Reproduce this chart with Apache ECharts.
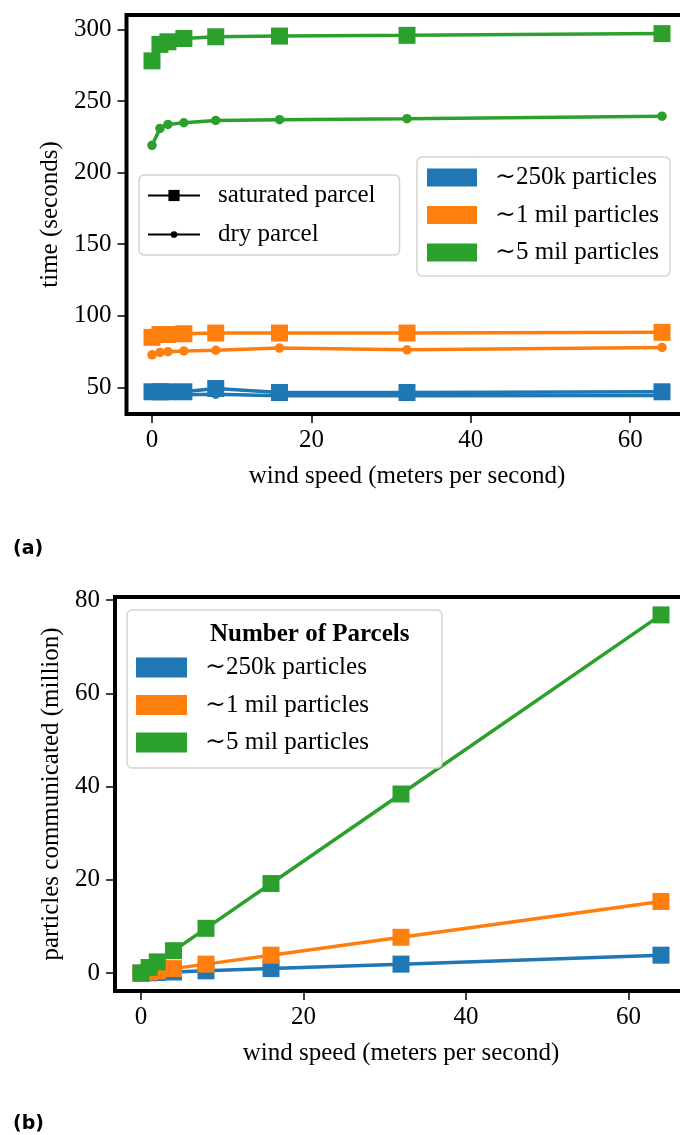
<!DOCTYPE html>
<html>
<head>
<meta charset="utf-8">
<script src="https://cdn.jsdelivr.net/npm/echarts@6/dist/echarts.min.js"></script>
<style>
  html, body { margin: 0; padding: 0; background: #fff; }
  #chart { width: 680px; height: 1135px; }
</style>
</head>
<body>
<div id="chart"></div>
<script>
// wind speed (m/s) shared by both panels
const windSpeed = [0, 1, 2, 4, 8, 16, 32, 64];

// (a) time in seconds
const time250kSat = [47, 47, 47, 47, 49.3, 46.5, 46.5, 47];
const time250kDry = [45, 45, 45, 45, 45.3, 44.3, 44.3, 44.5];
const time1milSat = [85, 87, 87, 87.5, 88, 88, 88, 88.5];
const time1milDry = [72.8, 74.5, 75, 75.5, 76, 77.5, 76.3, 78];
const time5milSat = [278, 289.5, 291.3, 293.6, 294.8, 295.3, 295.8, 297];
const time5milDry = [219, 230.8, 233.6, 234.8, 236.4, 236.9, 237.6, 239.4];

// (b) particles communicated (million)
const comm250k = [0, 0.06, 0.12, 0.24, 0.48, 0.96, 1.92, 3.84];
const comm1mil = [0, 0.24, 0.48, 0.96, 1.92, 3.84, 7.68, 15.36];
const comm5mil = [0, 1.2, 2.4, 4.8, 9.6, 19.2, 38.4, 76.8];

const sizeNames = ['∼250k particles', '∼1 mil particles', '∼5 mil particles'];
const kindNames = ['saturated parcel', 'dry parcel'];
const xTicks = [0, 20, 40, 60];
const yTicksA = [50, 100, 150, 200, 250, 300];
const yTicksB = [0, 20, 40, 60, 80];

const colors = ['#1f77b4', '#ff7f0e', '#2ca02c'];
const serif = '"Liberation Serif", "DejaVu Serif", serif';
const fs = 25;

let myChart = echarts.init(document.getElementById('chart'), null, {renderer: 'canvas'});

function pairs(ys) {
  return windSpeed.map((x, i) => [x, ys[i]]);
}

function xAxisOf(gridIndex) {
  return {
    type: 'value', gridIndex: gridIndex,
    min: -3.2, max: 67.2,
    name: 'wind speed (meters per second)',
    nameLocation: 'middle', nameGap: 50,
    nameTextStyle: {fontFamily: serif, fontSize: fs, color: '#000'},
    axisLine: {show: false, onZero: false},
    splitLine: {show: false},
    axisTick: {show: true, length: 9, inside: false, customValues: xTicks,
      lineStyle: {color: '#000', width: 1.5}},
    axisLabel: {customValues: xTicks, margin: 14,
      fontFamily: serif, fontSize: fs, color: '#000'}
  };
}

function yAxisOf(gridIndex, min, max, ticks, name, gap) {
  return {
    type: 'value', gridIndex: gridIndex,
    min: min, max: max,
    name: name,
    nameLocation: 'middle', nameGap: gap,
    nameTextStyle: {fontFamily: serif, fontSize: fs, color: '#000'},
    axisLine: {show: false, onZero: false},
    splitLine: {show: false},
    axisTick: {show: true, length: 9, customValues: ticks,
      lineStyle: {color: '#000', width: 1.5}},
    axisLabel: {customValues: ticks, margin: 15,
      fontFamily: serif, fontSize: fs, color: '#000'}
  };
}

function lineSeries(name, ys, color, symbol, size, xi) {
  return {
    name: name, type: 'line',
    xAxisIndex: xi, yAxisIndex: xi,
    data: pairs(ys),
    symbol: symbol, symbolSize: size,
    showAllSymbol: true,
    lineStyle: {color: color, width: 3.5},
    itemStyle: {color: color},
    emphasis: {disabled: true},
    animation: false
  };
}

const legendText = {fontFamily: serif, fontSize: fs, color: '#000', lineHeight: 24,
  padding: [0, 0, 0, 13]};
const legendBox = {
  orient: 'vertical', selectedMode: false,
  backgroundColor: 'rgba(255,255,255,0.85)',
  borderColor: '#d3d3d3', borderWidth: 1.5, borderRadius: 5
};

myChart.setOption({
  animation: false,
  title: [
    {text: 'Number of Parcels', left: 205, top: 617,
      textStyle: {fontFamily: serif, fontSize: fs, fontWeight: 'bold', color: '#000'}},
    {text: '(a)', left: 8, top: 535,
      textStyle: {fontFamily: '"DejaVu Sans", sans-serif', fontSize: 19, fontWeight: 'bold', color: '#000'}},
    {text: '(b)', left: 8, top: 1110,
      textStyle: {fontFamily: '"DejaVu Sans", sans-serif', fontSize: 19, fontWeight: 'bold', color: '#000'}}
  ],
  grid: [
    {left: 126.5, top: 15, width: 561, height: 399, outerBoundsMode: 'none',
      show: true, borderColor: '#000', borderWidth: 4, backgroundColor: 'transparent'},
    {left: 115, top: 597, width: 572, height: 394, outerBoundsMode: 'none',
      show: true, borderColor: '#000', borderWidth: 4, backgroundColor: 'transparent'}
  ],
  xAxis: [xAxisOf(0), xAxisOf(1)],
  yAxis: [
    yAxisOf(0, 31.5, 310, yTicksA, 'time (seconds)', 54),
    yAxisOf(1, -3.84, 80.64, yTicksB, 'particles communicated (million)', 50)
  ],
  legend: [
    Object.assign({}, legendBox, {
      data: kindNames, left: 139, top: 175,
      itemWidth: 52, itemHeight: 14, itemGap: 14,
      padding: [8, 24, 8, 8],
      textStyle: legendText
    }),
    Object.assign({}, legendBox, {
      data: sizeNames, left: 417, top: 157, icon: 'rect',
      itemWidth: 50, itemHeight: 18, itemGap: 12.5,
      padding: [8, 11, 11, 10],
      textStyle: legendText
    }),
    Object.assign({}, legendBox, {
      data: sizeNames, left: 127, top: 610, icon: 'rect',
      itemWidth: 51, itemHeight: 20, itemGap: 12.5,
      padding: [45, 73, 13, 9],
      textStyle: legendText
    })
  ],
  series: [
    lineSeries(sizeNames[0], time250kSat, colors[0], 'rect', 17, 0),
    lineSeries(sizeNames[0], time250kDry, colors[0], 'circle', 9.5, 0),
    lineSeries(sizeNames[1], time1milSat, colors[1], 'rect', 17, 0),
    lineSeries(sizeNames[1], time1milDry, colors[1], 'circle', 9.5, 0),
    lineSeries(sizeNames[2], time5milSat, colors[2], 'rect', 17, 0),
    lineSeries(sizeNames[2], time5milDry, colors[2], 'circle', 9.5, 0),
    // black entries only used by the marker legend
    {name: kindNames[0], type: 'line', xAxisIndex: 0, yAxisIndex: 0, data: [],
      symbol: 'rect', lineStyle: {color: '#000', width: 3}, itemStyle: {color: '#000'}},
    {name: kindNames[1], type: 'line', xAxisIndex: 0, yAxisIndex: 0, data: [],
      symbol: 'path://M0,0 M20,20 M10,4 A6,6 0 1,1 10,16 A6,6 0 1,1 10,4 Z',
      lineStyle: {color: '#000', width: 3}, itemStyle: {color: '#000'}},
    lineSeries(sizeNames[0], comm250k, colors[0], 'rect', 17, 1),
    lineSeries(sizeNames[1], comm1mil, colors[1], 'rect', 17, 1),
    lineSeries(sizeNames[2], comm5mil, colors[2], 'rect', 17, 1)
  ]
});
</script>
</body>
</html>
